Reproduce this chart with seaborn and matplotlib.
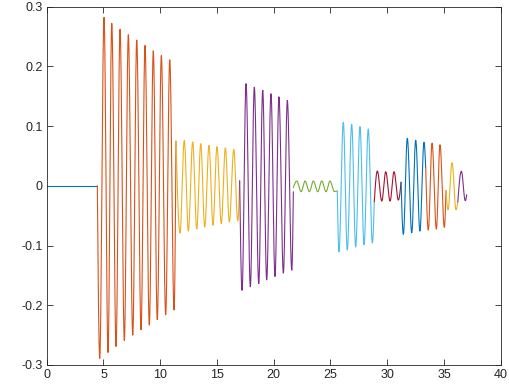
import numpy as np
import pandas as pd
import seaborn as sns
import matplotlib
matplotlib.use("Agg")
import matplotlib.pyplot as plt

# MATLAB default colour order
colors = ['#0072BD', '#D95319', '#EDB120', '#7E2F8E', '#77AC30', '#4DBEEE',
          '#A2142F', '#0072BD', '#D95319', '#EDB120', '#7E2F8E']

# knots of each segment: start point, peaks/troughs, end point
seg1_x = [0.0, 4.46]
seg1_y = [0.0, 0.0]

seg2_x = [4.46, 4.67, 5.05, 5.40, 5.73, 6.11, 6.46, 6.84, 7.19, 7.58, 7.93, 8.31,
          8.66, 9.04, 9.39, 9.74, 10.10, 10.48, 10.84, 11.22, 11.39]
seg2_y = [0.0, -0.289, 0.282, -0.279, 0.272, -0.269, 0.262, -0.259, 0.253, -0.250,
          0.244, -0.241, 0.235, -0.233, 0.226, -0.224, 0.218, -0.216, 0.211, -0.208, 0.075]

seg3_x = [11.39, 11.74, 12.12, 12.48, 12.86, 13.22, 13.57, 13.92, 14.30, 14.65,
          15.00, 15.38, 15.74, 16.09, 16.48, 16.83, 17.00]
seg3_y = [0.0745, -0.079, 0.076, -0.0757, 0.0734, -0.0723, 0.0706, -0.069, 0.0677,
          -0.066, 0.0655, -0.0634, 0.0634, -0.0605, 0.061, -0.0588, 0.0084]

seg4_x = [17.00, 17.21, 17.56, 17.94, 18.29, 18.68, 19.03, 19.38, 19.76, 20.11,
          20.46, 20.85, 21.20, 21.59, 21.73]
seg4_y = [0.0084, -0.175, 0.171, -0.169, 0.165, -0.1636, 0.1597, -0.1575, 0.1541,
          -0.1518, 0.1484, -0.1462, 0.1429, -0.1412, -0.01]

seg5_x = [21.73, 22.03, 22.41, 22.76, 23.14, 23.49, 23.88, 24.23, 24.61, 24.96,
          25.34, 25.60]
seg5_y = [-0.003, 0.008, -0.0099, 0.008, -0.0099, 0.008, -0.0099, 0.008, -0.0099,
          0.008, -0.0095, -0.0087]

seg6_x = [25.60, 25.75, 26.13, 26.48, 26.87, 27.22, 27.60, 27.96, 28.33, 28.69, 28.86]
seg6_y = [-0.0087, -0.1104, 0.1064, -0.1075, 0.103, -0.1025, 0.099, -0.0986,
          0.0951, -0.0953, -0.0266]

seg7_x = [28.86, 29.13, 29.52, 29.87, 30.25, 30.60, 30.98, 31.22]
seg7_y = [-0.0266, 0.0248, -0.0255, 0.0236, -0.0255, 0.0236, -0.0238, 0.006]

seg8_x = [31.22, 31.42, 31.77, 32.16, 32.51, 32.88, 33.24, 33.39]
seg8_y = [0.006, -0.0812, 0.0796, -0.0786, 0.0762, -0.0758, 0.0729, 0.03]

seg9_x = [33.39, 33.62, 33.95, 34.33, 34.65, 35.03, 35.18]
seg9_y = [0.03, -0.074, 0.0715, -0.0725, 0.0687, -0.0695, -0.008]

seg10_x = [35.18, 35.36, 35.71, 36.06, 36.22]
seg10_y = [-0.008, -0.040, 0.0387, -0.040, -0.027]

seg11_x = [36.22, 36.53, 36.88, 37.0]
seg11_y = [-0.027, 0.0243, -0.025, -0.015]

segments = [(seg1_x, seg1_y), (seg2_x, seg2_y), (seg3_x, seg3_y), (seg4_x, seg4_y),
            (seg5_x, seg5_y), (seg6_x, seg6_y), (seg7_x, seg7_y), (seg8_x, seg8_y),
            (seg9_x, seg9_y), (seg10_x, seg10_y), (seg11_x, seg11_y)]


def smooth(xs, ys, n=40):
    # rounded wave through the knots: flat at peaks/troughs, steep at the ends
    if len(xs) == 2:
        return np.array(xs), np.array(ys)
    px, py = [], []
    last = len(xs) - 2
    for i in range(len(xs) - 1):
        t = np.linspace(0, 1, n)
        y0, y1 = ys[i], ys[i + 1]
        if i == 0:
            s = np.sin(np.pi / 2 * t)
        elif i == last:
            s = 1 - np.cos(np.pi / 2 * t)
        else:
            s = (1 - np.cos(np.pi * t)) / 2
        px.append(xs[i] + (xs[i + 1] - xs[i]) * t)
        py.append(y0 + (y1 - y0) * s)
    return np.concatenate(px), np.concatenate(py)


sns.set_style("ticks")
plt.rcParams['font.family'] = ['Liberation Sans', 'DejaVu Sans']
plt.rcParams['axes.unicode_minus'] = False

fig = plt.figure(figsize=(5.1, 3.92), dpi=100)
ax = fig.add_axes([0.0916, 0.069, 0.8902, 0.914])

for (xs, ys), c in zip(segments, colors):
    lx, ly = smooth(xs, ys)
    df = pd.DataFrame({'x': lx, 'y': ly})
    sns.lineplot(data=df, x='x', y='y', color=c, linewidth=0.8, sort=False,
                 estimator=None, ax=ax)

ax.set_xlim(0, 40)
ax.set_ylim(-0.3, 0.3)
ax.set_xticks(np.arange(0, 41, 5))
ax.set_yticks([-0.3, -0.2, -0.1, 0, 0.1, 0.2, 0.3])
ax.set_yticklabels(['-0.3', '-0.2', '-0.1', '0', '0.1', '0.2', '0.3'])
ax.set_xlabel('')
ax.set_ylabel('')
for s in ax.spines.values():
    s.set_visible(True)
    s.set_color('#262626')
    s.set_linewidth(0.6)
ax.tick_params(direction='in', length=4, width=0.6, color='#262626',
               labelsize=9, labelcolor='#262626', top=True, right=True,
               labeltop=False, labelright=False, pad=3)

fig.savefig('out.png', dpi=100)
